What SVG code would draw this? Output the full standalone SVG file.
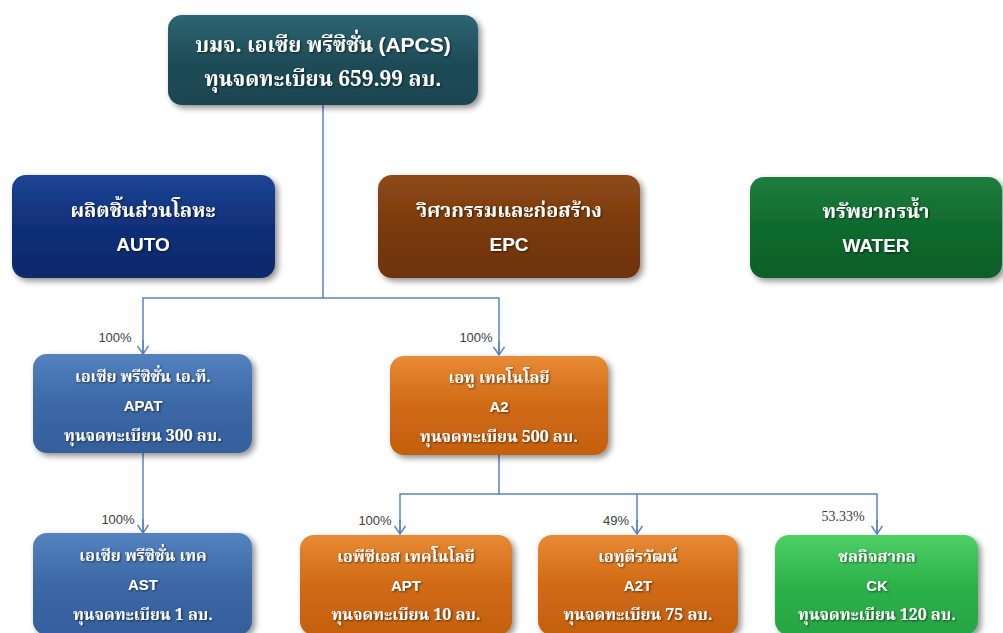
<svg xmlns="http://www.w3.org/2000/svg" width="1003" height="633" viewBox="0 0 1003 633">
<style>
.th{font-family:"Noto Serif Thai","Noto Sans Thai","Liberation Serif",serif;font-weight:bold;fill:#fff;text-anchor:middle}
.en{font-family:"Liberation Sans",Arial,sans-serif;font-weight:bold;fill:#fff;text-anchor:middle}
.pct{font-family:"Liberation Sans",Arial,sans-serif;font-size:13px;fill:#404040;text-anchor:middle}
.pct2{font-family:"Liberation Serif",serif;font-size:14px;fill:#404040;text-anchor:middle}
.c{fill:none;stroke:#5b84c0;stroke-width:1.5}
.t1{font-size:21px}.t2{font-size:20px}.t3{font-size:16px}.e2{font-size:19px}.e3{font-size:15px}
</style>
<defs>
<filter id="sh" x="-10%" y="-10%" width="125%" height="130%">
<feGaussianBlur in="SourceAlpha" stdDeviation="3"/>
<feOffset dx="3" dy="3" result="b"/>
<feComponentTransfer><feFuncA type="linear" slope="0.45"/></feComponentTransfer>
<feMerge><feMergeNode/><feMergeNode in="SourceGraphic"/></feMerge>
</filter>
<filter id="ts"><feDropShadow dx="1" dy="1" stdDeviation="0.8" flood-color="#000" flood-opacity="0.6"/></filter>
<linearGradient id="gTeal" x1="0" y1="0" x2="0" y2="1"><stop offset="0" stop-color="#2e6572"/><stop offset="0.5" stop-color="#1f4d58"/><stop offset="1" stop-color="#1a4550"/></linearGradient>
<linearGradient id="gNavy" x1="0" y1="0" x2="0" y2="1"><stop offset="0" stop-color="#1d4595"/><stop offset="0.5" stop-color="#112f78"/><stop offset="1" stop-color="#0e2a6c"/></linearGradient>
<linearGradient id="gBrown" x1="0" y1="0" x2="0" y2="1"><stop offset="0" stop-color="#8e4a17"/><stop offset="0.5" stop-color="#7a3a0c"/><stop offset="1" stop-color="#6e330a"/></linearGradient>
<linearGradient id="gDGreen" x1="0" y1="0" x2="0" y2="1"><stop offset="0" stop-color="#1f7d3d"/><stop offset="0.5" stop-color="#0f6a2e"/><stop offset="1" stop-color="#0c5f28"/></linearGradient>
<linearGradient id="gSteel" x1="0" y1="0" x2="0" y2="1"><stop offset="0" stop-color="#5482bf"/><stop offset="0.5" stop-color="#3c68a6"/><stop offset="1" stop-color="#35609c"/></linearGradient>
<linearGradient id="gOrange" x1="0" y1="0" x2="0" y2="1"><stop offset="0" stop-color="#e88a35"/><stop offset="0.5" stop-color="#d06a14"/><stop offset="1" stop-color="#c46010"/></linearGradient>
<linearGradient id="gGreen" x1="0" y1="0" x2="0" y2="1"><stop offset="0" stop-color="#4fd067"/><stop offset="0.5" stop-color="#2db24a"/><stop offset="1" stop-color="#27a443"/></linearGradient>
<marker id="arr" viewBox="0 0 12 12" refX="6" refY="11" markerWidth="12" markerHeight="12" markerUnits="userSpaceOnUse" orient="0">
<path d="M0.5,3 L6,11 L11.5,3" fill="none" stroke="#5b84c0" stroke-width="1.5"/>
</marker>
</defs>
<rect width="1003" height="633" fill="#fff"/>

<g id="connectors">
<path class="c" d="M323,105 V298 H143 V354"/>
<path class="c" d="M323,298 H499 V355"/>
<path class="c" d="M143,453 V533"/>
<path class="c" d="M499,455 V494 H400 V534"/>
<path class="c" d="M499,494 H637 V534"/>
<path class="c" d="M637,494 H877 V534"/>
<line x1="143" y1="340" x2="143" y2="354" class="c" marker-end="url(#arr)"/>
<line x1="499" y1="341" x2="499" y2="355" class="c" marker-end="url(#arr)"/>
<line x1="143" y1="519" x2="143" y2="533" class="c" marker-end="url(#arr)"/>
<line x1="400" y1="520" x2="400" y2="534" class="c" marker-end="url(#arr)"/>
<line x1="637" y1="520" x2="637" y2="534" class="c" marker-end="url(#arr)"/>
<line x1="877" y1="520" x2="877" y2="534" class="c" marker-end="url(#arr)"/>
<text class="pct" x="115" y="342">100%</text>
<text class="pct" x="476" y="342">100%</text>
<text class="pct" x="118" y="524">100%</text>
<text class="pct" x="375" y="525">100%</text>
<text class="pct" x="616" y="525">49%</text>
<text class="pct2" x="843" y="521">53.33%</text>
</g>

<g id="apcs">
<rect x="168" y="15" width="310" height="90" rx="14" fill="url(#gTeal)" filter="url(#sh)"/>
<text class="th t1" x="323" y="52" filter="url(#ts)">บมจ. เอเซีย  พรีซิชั่น <tspan class="en">(APCS)</tspan></text>
<text class="th t1" x="323" y="86" filter="url(#ts)">ทุนจดทะเบียน 659.99 ลบ.</text>
</g>

<g id="auto">
<rect x="12" y="175" width="263" height="103" rx="14" fill="url(#gNavy)" filter="url(#sh)"/>
<text class="th t2" x="143" y="217" filter="url(#ts)">ผลิตชิ้นส่วนโลหะ</text>
<text class="en e2" x="143" y="251" filter="url(#ts)">AUTO</text>
</g>

<g id="epc">
<rect x="378" y="175" width="262" height="103" rx="14" fill="url(#gBrown)" filter="url(#sh)"/>
<text class="th t2" x="509" y="217" filter="url(#ts)">วิศวกรรมและก่อสร้าง</text>
<text class="en e2" x="509" y="251" filter="url(#ts)">EPC</text>
</g>

<g id="water">
<rect x="750" y="177" width="252" height="101" rx="14" fill="url(#gDGreen)" filter="url(#sh)"/>
<text class="th t2" x="876" y="218" filter="url(#ts)">ทรัพยากรน้ำ</text>
<text class="en e2" x="876" y="252" filter="url(#ts)">WATER</text>
</g>

<g id="apat">
<rect x="33" y="354" width="219" height="99" rx="14" fill="url(#gSteel)" filter="url(#sh)"/>
<text class="th t3" x="143" y="382" filter="url(#ts)">เอเซีย พรีซิชั่น เอ.ที.</text>
<text class="en e3" x="143" y="411" filter="url(#ts)">APAT</text>
<text class="th t3" x="143" y="441" filter="url(#ts)">ทุนจดทะเบียน 300 ลบ.</text>
</g>

<g id="a2">
<rect x="390" y="356" width="218" height="99" rx="14" fill="url(#gOrange)" filter="url(#sh)"/>
<text class="th t3" x="499" y="383" filter="url(#ts)">เอทู เทคโนโลยี</text>
<text class="en e3" x="499" y="412" filter="url(#ts)">A2</text>
<text class="th t3" x="499" y="442" filter="url(#ts)">ทุนจดทะเบียน 500 ลบ.</text>
</g>

<g id="ast">
<rect x="33" y="533" width="219" height="102" rx="14" fill="url(#gSteel)" filter="url(#sh)"/>
<text class="th t3" x="143" y="561" filter="url(#ts)">เอเซีย พรีซิชั่น เทค</text>
<text class="en e3" x="143" y="590" filter="url(#ts)">AST</text>
<text class="th t3" x="143" y="620" filter="url(#ts)">ทุนจดทะเบียน 1 ลบ.</text>
</g>

<g id="apt">
<rect x="300" y="535" width="212" height="100" rx="14" fill="url(#gOrange)" filter="url(#sh)"/>
<text class="th t3" x="406" y="562" filter="url(#ts)">เอพีซีเอส เทคโนโลยี</text>
<text class="en e3" x="406" y="591" filter="url(#ts)">APT</text>
<text class="th t3" x="406" y="620" filter="url(#ts)">ทุนจดทะเบียน 10 ลบ.</text>
</g>

<g id="a2t">
<rect x="538" y="535" width="200" height="100" rx="14" fill="url(#gOrange)" filter="url(#sh)"/>
<text class="th t3" x="638" y="562" filter="url(#ts)">เอทูตีรวัฒน์</text>
<text class="en e3" x="638" y="591" filter="url(#ts)">A2T</text>
<text class="th t3" x="638" y="620" filter="url(#ts)">ทุนจดทะเบียน 75 ลบ.</text>
</g>

<g id="ck">
<rect x="775" y="535" width="203" height="100" rx="14" fill="url(#gGreen)" filter="url(#sh)"/>
<text class="th t3" x="877" y="562" filter="url(#ts)">ชลกิจสากล</text>
<text class="en e3" x="877" y="591" filter="url(#ts)">CK</text>
<text class="th t3" x="877" y="620" filter="url(#ts)">ทุนจดทะเบียน 120 ลบ.</text>
</g>
</svg>
